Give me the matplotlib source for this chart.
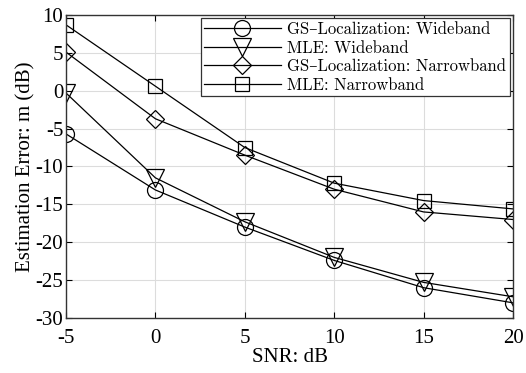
import numpy as np
import matplotlib.pyplot as plt

snr = [-5, 0, 5, 10, 15, 20]
gs_wide = [-5.7, -13.1, -18.0, -22.4, -26.0, -28.0]
mle_wide = [-0.3, -11.5, -17.3, -22.0, -25.3, -27.2]
gs_narrow = [5.1, -3.7, -8.5, -13.0, -16.0, -17.0]
mle_narrow = [8.7, 0.6, -7.5, -12.2, -14.5, -15.6]

labels = ['GS\u2013Localization: Wideband', 'MLE: Wideband',
          'GS\u2013Localization: Narrowband', 'MLE: Narrowband']
markers = ['o', 'v', 'D', 's']
sizes = [11.5, 12.5, 9, 9.5]

plt.rcParams['font.family'] = ['Liberation Serif', 'DejaVu Serif']

fig = plt.figure(figsize=(5.26, 3.73), dpi=100)
ax = fig.add_axes([0.1255, 0.1475, 0.8498, 0.8123])

for y, m, s, lab in zip([gs_wide, mle_wide, gs_narrow, mle_narrow], markers, sizes, labels):
    ax.plot(snr, y, color='black', lw=0.9, marker=m, ms=s, mfc='none',
            mec='black', mew=0.9, label=lab)

ax.set_xlim(-5, 20)
ax.set_ylim(-30, 10)
ax.set_xticks(snr)
ax.set_yticks(np.arange(-30, 11, 5))
ax.set_xticklabels([str(v) for v in snr])
ax.set_yticklabels([str(v) for v in range(-30, 11, 5)])
ax.tick_params(direction='in', labelsize=15, length=4, top=True, right=True, pad=2)
ax.tick_params(axis='x', pad=8)
ax.grid(True, color='#dcdcdc', lw=0.8)
for sp in ax.spines.values():
    sp.set_color('#333333')
    sp.set_linewidth(1.0)

ax.set_xlabel('SNR: dB', fontsize=15, labelpad=0)
ax.set_ylabel('Estimation Error: m (dB)', fontsize=15, labelpad=0)

leg = ax.legend(loc='upper right', fancybox=False, edgecolor='#333333',
                framealpha=1, borderaxespad=0.2, handlelength=4.6,
                labelspacing=0.2, borderpad=0.2, handletextpad=0.4,
                prop={'family': ['cmr10', 'DejaVu Serif'], 'size': 12})
leg.get_frame().set_linewidth(0.9)

fig.savefig('out.png', dpi=100)
